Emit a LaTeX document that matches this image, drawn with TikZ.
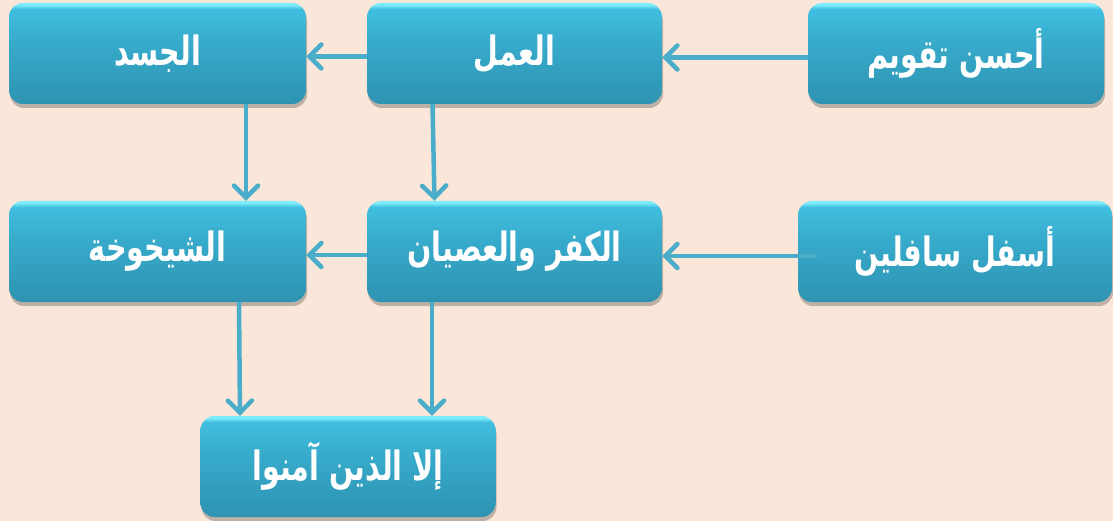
\documentclass[tikz,border=0pt]{standalone}
\usepackage{fontspec}
\newfontfamily\arabicfont[Script=Arabic]{DejaVu Sans}
\TeXXeTstate=1
\usetikzlibrary{arrows.meta,shadows}
\definecolor{bgc}{HTML}{FBE7D9}
\definecolor{botc}{HTML}{2E93B1}
\definecolor{midc}{HTML}{37AACB}
\definecolor{topc}{HTML}{40BEDF}
\definecolor{hic}{HTML}{7CEBFA}
\definecolor{arrc}{HTML}{4AADC9}
\pgfdeclareverticalshading{boxshade}{100bp}{color(0bp)=(botc); color(25bp)=(botc); color(55bp)=(midc); color(72bp)=(topc); color(74bp)=(hic); color(75bp)=(hic); color(100bp)=(hic)}
\newcommand{\artxt}[1]{\scalebox{0.92}[1.3]{\beginR #1\endR}}
\tikzset{
  box/.style={rounded corners=14pt, shading=boxshade, minimum height=101pt,
    text=white, font=\arabicfont\bfseries\fontsize{31}{36}\selectfont,
    drop shadow={shadow xshift=1pt, shadow yshift=-4pt, opacity=0.35, fill=black!70},
    inner sep=0pt},
  conn/.style={draw=arrc, line width=4.5pt, -{Straight Barb[length=12pt,width=24pt,line cap=round,line width=4.5pt]}}
}
\begin{document}
\begin{tikzpicture}[x=1pt,y=-1pt]
\fill[bgc] (0,0) rectangle (1113,521);
\useasboundingbox (0,0) rectangle (1113,521);
\node[box, minimum width=297pt] (jasad) at (157.5,53.5) {\artxt{الجسد}};
\node[box, minimum width=295pt] (amal) at (514.5,53.5) {\artxt{العمل}};
\node[box, minimum width=296pt] (ahsan) at (956,53.5) {\artxt{أحسن تقويم}};
\node[box, minimum width=297pt] (shaykh) at (157.5,251.5) {\artxt{الشيخوخة}};
\node[box, minimum width=295pt] (kufr) at (514.5,251.5) {\artxt{الكفر والعصيان}};
\node[box, minimum width=314pt] (asfal) at (955,251.5) {\artxt{أسفل سافلين}};
\node[box, minimum width=295pt] (illa) at (348,466.5) {\artxt{إلا الذين آمنوا}};
\draw[conn] ([yshift=-4pt]ahsan.west) -- ([yshift=-4pt]amal.east);
\draw[conn] ([yshift=-3pt]amal.west) -- ([yshift=-3pt]jasad.east);
\draw[conn] ([xshift=88.5pt]jasad.south) -- ([xshift=88.5pt]shaykh.north);
\draw[conn] ([xshift=-82pt]amal.south) -- ([xshift=-80pt]kufr.north);
\draw[conn] ([yshift=-3.5pt]kufr.west) -- ([yshift=-3.5pt]shaykh.east);
\draw[conn] ([xshift=19pt,yshift=-4.5pt]asfal.west) -- ([yshift=-4.5pt]kufr.east);
\draw[conn] ([xshift=81.5pt]shaykh.south) -- ([xshift=-108pt]illa.north);
\draw[conn] ([xshift=-82.5pt]kufr.south) -- ([xshift=84pt]illa.north);
\end{tikzpicture}
\end{document}
